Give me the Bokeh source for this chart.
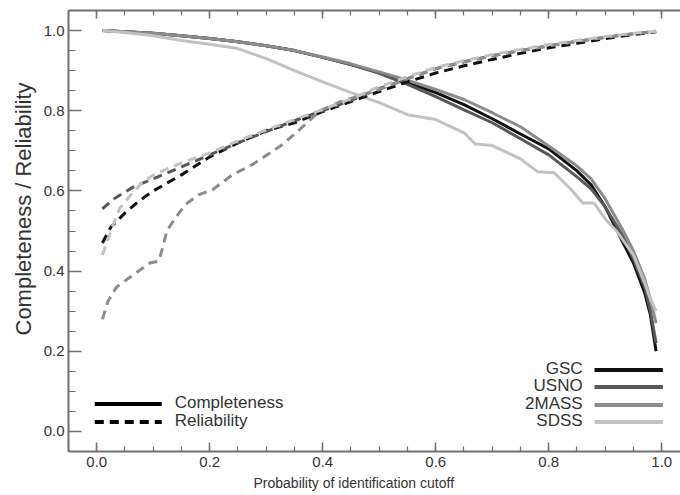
from bokeh.plotting import figure
from bokeh.models import (Range1d, LinearAxis, SingleIntervalTicker,
                          PrintfTickFormatter, CustomJSTickFormatter, Label, Title)
from bokeh.embed import file_html
from bokeh.resources import INLINE

# ---- data: completeness (solid) and reliability (dashed) vs probability cutoff ----
catalogs = ["GSC", "USNO", "2MASS", "SDSS"]
colors = {"GSC": "#111111", "USNO": "#585858", "2MASS": "#8c8c8c", "SDSS": "#c2c2c2"}

comp_x = {
    "GSC":   [0.01, 0.05, 0.10, 0.15, 0.20, 0.25, 0.30, 0.35, 0.40, 0.45, 0.50, 0.55, 0.60, 0.65,
              0.70, 0.75, 0.80, 0.85, 0.875, 0.90, 0.93, 0.95, 0.97, 0.98, 0.99],
    "USNO":  [0.01, 0.05, 0.10, 0.15, 0.20, 0.25, 0.30, 0.35, 0.40, 0.45, 0.50, 0.55, 0.60, 0.65,
              0.70, 0.75, 0.80, 0.85, 0.875, 0.90, 0.93, 0.95, 0.97, 0.98, 0.99],
    "2MASS": [0.01, 0.05, 0.10, 0.15, 0.20, 0.25, 0.30, 0.35, 0.40, 0.45, 0.50, 0.55, 0.60, 0.65,
              0.70, 0.75, 0.80, 0.85, 0.875, 0.90, 0.93, 0.95, 0.97, 0.98, 0.99],
    "SDSS":  [0.01, 0.05, 0.10, 0.15, 0.20, 0.25, 0.30, 0.35, 0.40, 0.45, 0.50, 0.55, 0.60, 0.65,
              0.67, 0.70, 0.75, 0.78, 0.81, 0.84, 0.86, 0.88, 0.90, 0.92, 0.95, 0.97, 0.98, 0.99],
}
comp_y = {
    "GSC":   [1.000, 0.997, 0.993, 0.987, 0.980, 0.972, 0.962, 0.950, 0.933, 0.915, 0.895, 0.870, 0.845, 0.815,
              0.780, 0.742, 0.705, 0.650, 0.615, 0.560, 0.475, 0.420, 0.345, 0.290, 0.200],
    "USNO":  [1.000, 0.997, 0.993, 0.987, 0.980, 0.972, 0.962, 0.950, 0.933, 0.915, 0.893, 0.866, 0.835, 0.802,
              0.770, 0.730, 0.690, 0.635, 0.605, 0.560, 0.490, 0.430, 0.360, 0.300, 0.220],
    "2MASS": [1.000, 0.997, 0.993, 0.987, 0.980, 0.972, 0.962, 0.950, 0.934, 0.917, 0.897, 0.876, 0.853, 0.828,
              0.795, 0.760, 0.712, 0.662, 0.630, 0.580, 0.505, 0.450, 0.380, 0.330, 0.270],
    "SDSS":  [1.000, 0.995, 0.987, 0.975, 0.966, 0.955, 0.930, 0.900, 0.872, 0.845, 0.820, 0.790, 0.778, 0.745,
              0.717, 0.713, 0.680, 0.648, 0.645, 0.603, 0.570, 0.570, 0.530, 0.500, 0.440, 0.370, 0.330, 0.300],
}

rel_x = {
    "GSC":   [0.01, 0.025, 0.05, 0.075, 0.10, 0.125, 0.15, 0.20, 0.25, 0.30, 0.35, 0.40, 0.45, 0.50,
              0.55, 0.60, 0.65, 0.70, 0.75, 0.80, 0.85, 0.90, 0.95, 0.99],
    "USNO":  [0.01, 0.03, 0.065, 0.10, 0.125, 0.15, 0.20, 0.25, 0.30, 0.35, 0.40, 0.45, 0.50,
              0.55, 0.60, 0.65, 0.70, 0.75, 0.80, 0.85, 0.90, 0.95, 0.99],
    "2MASS": [0.01, 0.02, 0.035, 0.064, 0.094, 0.11, 0.117, 0.124, 0.138, 0.156, 0.18, 0.205, 0.24,
              0.277, 0.33, 0.37, 0.395, 0.43, 0.50, 0.55, 0.60, 0.65, 0.70, 0.75, 0.80, 0.85, 0.90,
              0.95, 0.99],
    "SDSS":  [0.01, 0.02, 0.03, 0.04, 0.06, 0.08, 0.10, 0.15, 0.20, 0.25, 0.30, 0.35, 0.40, 0.45,
              0.50, 0.55, 0.60, 0.65, 0.70, 0.75, 0.80, 0.85, 0.90, 0.95, 0.99],
}
rel_y = {
    "GSC":   [0.470, 0.510, 0.545, 0.575, 0.600, 0.620, 0.640, 0.685, 0.720, 0.750, 0.770, 0.798, 0.823, 0.848,
              0.872, 0.894, 0.912, 0.928, 0.943, 0.957, 0.968, 0.980, 0.990, 0.997],
    "USNO":  [0.555, 0.580, 0.610, 0.630, 0.645, 0.660, 0.690, 0.720, 0.748, 0.775, 0.800, 0.826, 0.855,
              0.880, 0.905, 0.922, 0.937, 0.950, 0.962, 0.973, 0.983, 0.992, 0.998],
    "2MASS": [0.280, 0.325, 0.360, 0.390, 0.420, 0.425, 0.460, 0.500, 0.530, 0.565, 0.590, 0.603, 0.640,
              0.667, 0.717, 0.767, 0.800, 0.822, 0.853, 0.880, 0.905, 0.922, 0.937, 0.950, 0.962, 0.973, 0.983,
              0.992, 0.998],
    "SDSS":  [0.440, 0.480, 0.520, 0.555, 0.590, 0.620, 0.640, 0.670, 0.695, 0.725, 0.752, 0.778, 0.803, 0.830,
              0.860, 0.885, 0.908, 0.925, 0.940, 0.953, 0.965, 0.975, 0.985, 0.993, 0.998],
}

FONT = "Liberation Sans"
AXIS_GRAY = "#707070"
TEXT_GRAY = "#333333"
DASH = "9 6"

p = figure(width=680, height=495, output_backend="svg", toolbar_location=None,
           x_range=Range1d(-0.05, 1.0332), y_range=Range1d(-0.05, 1.05),
           x_axis_type=None, y_axis_type=None,
           min_border_left=68, min_border_right=0, min_border_top=10, min_border_bottom=44)
p.outline_line_color = None
p.background_fill_color = "white"
p.border_fill_color = "white"


def style_axis(ax, tick_in, minor_in):
    ax.axis_line_color = AXIS_GRAY
    ax.axis_line_width = 2
    ax.major_tick_line_color = AXIS_GRAY
    ax.minor_tick_line_color = AXIS_GRAY
    ax.major_tick_line_width = 1.5
    ax.minor_tick_line_width = 1.2
    ax.major_tick_in = tick_in
    ax.major_tick_out = 0
    ax.minor_tick_in = minor_in
    ax.minor_tick_out = 0
    ax.formatter = PrintfTickFormatter(format="%.1f")
    ax.major_label_text_font = FONT
    ax.major_label_text_font_size = "15px"
    ax.major_label_text_color = TEXT_GRAY


xaxis = LinearAxis(ticker=SingleIntervalTicker(interval=0.2, num_minor_ticks=4))
style_axis(xaxis, 9, 5)
xaxis.major_label_standoff = 5
p.add_layout(xaxis, "below")

# top frame edge: ticks only, no numbers
topaxis = LinearAxis(ticker=SingleIntervalTicker(interval=0.2, num_minor_ticks=4))
style_axis(topaxis, 8, 5)
topaxis.formatter = CustomJSTickFormatter(code="return ''")
topaxis.major_label_standoff = 0
p.add_layout(topaxis, "above")

yaxis = LinearAxis(ticker=SingleIntervalTicker(interval=0.2, num_minor_ticks=4))
style_axis(yaxis, 13, 7)
yaxis.major_label_standoff = 4
p.add_layout(yaxis, "left")

p.add_layout(Title(text="Completeness / Reliability", align="left", offset=116,
                   text_font=FONT, text_font_size="22px", text_font_style="normal",
                   text_color=TEXT_GRAY, standoff=10), "left")

p.add_layout(Title(text="Probability of identification cutoff", align="left", offset=185,
                   text_font=FONT, text_font_size="14px", text_font_style="normal",
                   text_color=TEXT_GRAY, standoff=7), "below")

# curves
for name in catalogs:
    p.line(comp_x[name], comp_y[name], line_color=colors[name], line_width=3)
for name in catalogs:
    p.line(rel_x[name], rel_y[name], line_color=colors[name], line_width=3, line_dash=DASH)

# line-style key (bottom left)
style_key = [("Completeness", "solid", 0.0725), ("Reliability", DASH, 0.0275)]
for text, dash, yk in style_key:
    p.line([-0.0035, 0.115], [yk - 0.004, yk - 0.004], line_color="black", line_width=4, line_dash=dash)
    p.add_layout(Label(x=0.138, y=yk, text=text, text_font=FONT, text_font_size="17px",
                       text_color=TEXT_GRAY, text_baseline="middle"))

# catalogue key (bottom right)
cat_key_y = {"GSC": 0.1575, "USNO": 0.115, "2MASS": 0.07, "SDSS": 0.0275}
for name in catalogs:
    yk = cat_key_y[name]
    p.line([0.881, 1.002], [yk - 0.004, yk - 0.004], line_color=colors[name], line_width=4)
    p.add_layout(Label(x=0.86, y=yk, text=name, text_font=FONT, text_font_size="17px",
                       text_color=TEXT_GRAY, text_baseline="middle", text_align="right"))

open("out.html", "w").write(file_html(p, INLINE))
